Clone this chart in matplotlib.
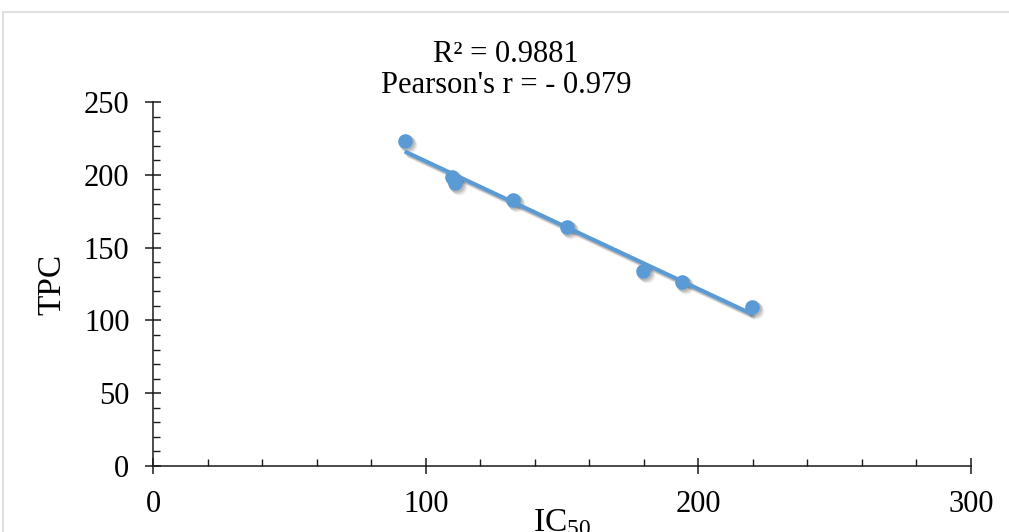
import matplotlib.pyplot as plt
import numpy as np
from matplotlib.patches import Rectangle
from matplotlib.ticker import MultipleLocator

plt.rcParams["font.family"] = ["Liberation Serif", "DejaVu Serif"]

# IC50 vs TPC values
ic50 = [92.3, 109.5, 110.8, 132.1, 151.7, 179.8, 193.9, 219.6]
tpc = [223.5, 198.6, 194.2, 182.7, 164.1, 134.1, 126.6, 108.9]

x_ticks = [0, 100, 200, 300]
y_ticks = [0, 50, 100, 150, 200, 250]
annotation_lines = ["R² = 0.9881", "Pearson's r = - 0.979"]

blue = "#5B9BD5"
shadow = "#000000"

fig = plt.figure(figsize=(10.09, 5.32), dpi=100)
ax = fig.add_axes([153 / 1009, 1 - 466 / 532, (971 - 153) / 1009, (466 - 102) / 532])

# chart area border (Excel style, cropped at the right/bottom)
fig.patches.append(
    Rectangle((3 / 1009, -0.2), 1.2, 1.2 - 12 / 532, transform=fig.transFigure,
              fill=False, edgecolor="#D9D9D9", linewidth=1.2)
)

x = np.array(ic50)
y = np.array(tpc)
slope, intercept = np.polyfit(x, y, 1)
fit_x = np.array([x.min(), x.max()])
fit_y = slope * fit_x + intercept

# soft shadows
for off, a in [(4, 0.05), (3, 0.07), (2, 0.09), (1, 0.09)]:
    dx, dy = off / 2.7267, -off / 1.456
    ax.plot(fit_x + dx, fit_y + dy, color=shadow, alpha=a, linewidth=3.6,
            solid_capstyle="butt", zorder=1)
    ax.plot(x + dx, y + dy, "o", color=shadow, alpha=a, markersize=11.5,
            markeredgewidth=0, zorder=1)

ax.plot(x, y, "o", color=blue, markersize=10.5, markeredgewidth=0, zorder=3)
ax.plot(fit_x, fit_y, color=blue, linewidth=2.9, solid_capstyle="butt", zorder=4)

ax.set_xlim(0, 300)
ax.set_ylim(0, 250)
ax.set_xticks(x_ticks)
ax.set_yticks(y_ticks)
ax.xaxis.set_minor_locator(MultipleLocator(20))
ax.yaxis.set_minor_locator(MultipleLocator(10))

for side in ["top", "right"]:
    ax.spines[side].set_visible(False)
for side in ["left", "bottom"]:
    ax.spines[side].set_linewidth(1.1)
    ax.spines[side].set_color("#1a1a1a")

ax.tick_params(which="major", direction="inout", length=12, width=1.1,
               labelsize=22, color="#1a1a1a")
ax.tick_params(axis="x", which="major", pad=11)
ax.tick_params(axis="y", which="major", pad=11)
ax.tick_params(which="minor", direction="in", length=5, width=1.0, color="#1a1a1a")

ax.set_xlabel(r"$\mathregular{IC_{50}}$", fontsize=24, labelpad=-8)
ax.set_ylabel("TPC", fontsize=24, labelpad=12)

fig.text(506 / 1009, 1 - 62 / 532, annotation_lines[0], ha="center", va="baseline", fontsize=22)
fig.text(506 / 1009, 1 - 93 / 532, annotation_lines[1], ha="center", va="baseline", fontsize=22)

fig.savefig("out.png", dpi=100, facecolor="white")
